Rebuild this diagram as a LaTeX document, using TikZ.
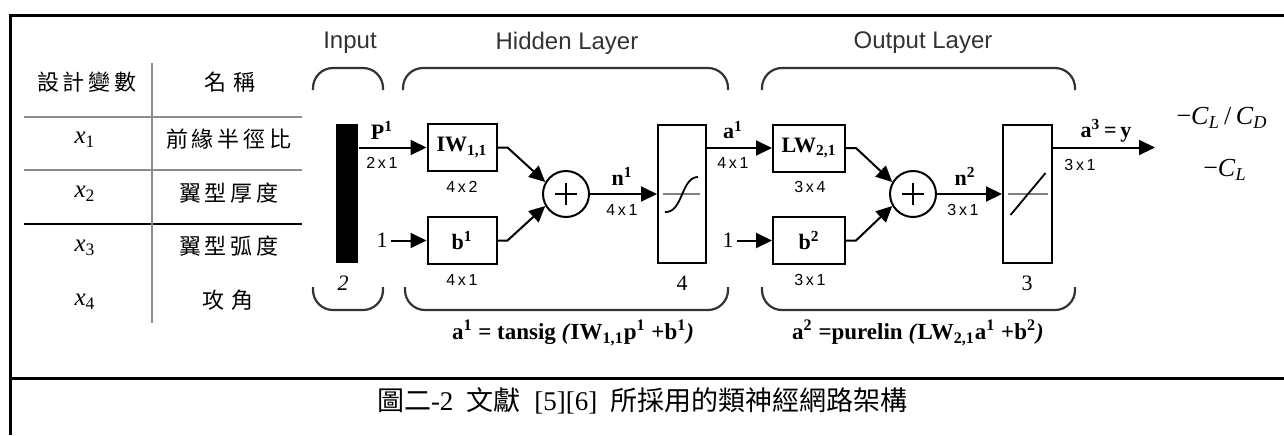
\documentclass[tikz,border=0pt]{standalone}
\usepackage{fontspec}
\setmainfont{Liberation Serif}
\newfontfamily\sansf{Liberation Sans}
\newfontfamily\cjk{Noto Sans CJK TC}
\usetikzlibrary{arrows.meta,positioning}
\definecolor{NNGray}{HTML}{333333}
\definecolor{TabLine}{HTML}{8C8C8C}
\newcommand{\fs}[1]{\fontsize{#1}{#1}\selectfont}
\newcommand{\cs}{\hspace{2pt}}

\begin{document}
\begin{tikzpicture}[x=0.5pt,y=-0.5pt,>={Triangle[length=8pt,width=7.5pt]},line width=1pt]
  \tikzstyle{wbox}=[draw,line width=1pt,minimum width=34.5pt,minimum height=23.5pt,
    inner sep=0pt,font=\fs{11}\bfseries]
  \tikzstyle{tfbox}=[draw,line width=1pt,minimum width=24pt,minimum height=69pt,inner sep=0pt]
  \tikzstyle{sumnode}=[draw,circle,line width=1pt,minimum size=23pt,inner sep=0pt]
  \tikzstyle{vlbl}=[inner sep=1pt,font=\fs{11}\bfseries]
  \tikzstyle{dimlbl}=[inner sep=1pt,font=\sansf\fs{8}]
  \tikzstyle{numlbl}=[inner sep=1pt,font=\fs{11}]
  \tikzstyle{layerlbl}=[inner sep=1pt,text=NNGray,font=\sansf\fs{12}]
  \tikzstyle{formula}=[inner sep=1pt,font=\fs{11.5}\bfseries]
  \tikzstyle{outlbl}=[inner sep=1pt,font=\fs{13}]
  \tikzstyle{tabtxt}=[inner sep=1pt,font=\cjk\fs{11}]
  \tikzstyle{vartxt}=[inner sep=1pt,font=\fs{12.5}]
  \tikzstyle{tline}=[draw=TabLine,line width=0.8pt]
  \tikzstyle{brk}=[draw=NNGray,line width=1.1pt,rounded corners=10pt]
  \tikzstyle{frame}=[draw=black,line width=1.5pt]
  \useasboundingbox (0,0) rectangle (1284,435);
  % frame
  \draw[frame] (1284,15) -- (10,15) -- (10,435);
  \draw[frame] (10,378) -- (1284,378);
  % table of design variables
  \node[tabtxt] (hdvar) at (87,82) {設\cs 計\cs 變\cs 數};
  \node[tabtxt] (hdname) at (230,82) {名\hspace{4pt}稱};
  \node[vartxt] (var1) at (85,140) {\textit{x}\textsubscript{1}};
  \node[vartxt] (var2) at (85,194) {\textit{x}\textsubscript{2}};
  \node[vartxt] (var3) at (85,248) {\textit{x}\textsubscript{3}};
  \node[vartxt] (var4) at (85,302) {\textit{x}\textsubscript{4}};
  \node[tabtxt] (nm1) at (229,139) {前\cs 緣\cs 半\cs 徑\cs 比};
  \node[tabtxt] (nm2) at (229,193) {翼\cs 型\cs 厚\cs 度};
  \node[tabtxt] (nm3) at (229,246) {翼\cs 型\cs 弧\cs 度};
  \node[tabtxt] (nm4) at (228,300) {攻\hspace{4pt}角};
  \draw[tline] (24,117) -- (302,117);
  \draw[tline] (24,170) -- (302,170);
  \draw[tline,draw=black] (24,224) -- (302,224);
  \draw[tline] (152,63) -- (152,323);
  % layer brackets
  \draw[brk] (313,90) -- (313,68) -- (383,68) -- (383,90);
  \draw[brk] (313,287) -- (313,310) -- (383,310) -- (383,287);
  \draw[brk] (403,90) -- (403,68) -- (728,68) -- (728,90);
  \draw[brk] (405,287) -- (405,310) -- (728,310) -- (728,287);
  \draw[brk] (762,90) -- (762,68) -- (1075,68) -- (1075,90);
  \draw[brk] (762,287) -- (762,310) -- (1075,310) -- (1075,287);
  \node[layerlbl] (linput) at (350,43) {Input};
  \node[layerlbl] (lhidden) at (567,43) {Hidden Layer};
  \node[layerlbl] (loutput) at (923,43) {Output Layer};
  % network
  \node[fill=black,minimum width=11pt,minimum height=69.5pt,inner sep=0pt] (bar) at (347,193.5) {};
  \node[wbox] (iw) at (462,147.5) {IW\textsubscript{1,1}};
  \node[wbox] (bone) at (462,240.5) {b\textsuperscript{1}};
  \node[sumnode] (sumone) at (566,194) {};
  \node[tfbox] (tfone) at (682,194) {};
  \node[wbox,minimum width=36pt] (lw) at (809,148) {LW\textsubscript{2,1}};
  \node[wbox,minimum width=36pt] (btwo) at (809,240.5) {b\textsuperscript{2}};
  \node[sumnode] (sumtwo) at (913,194) {};
  \node[tfbox,minimum width=24.5pt] (tftwo) at (1027.5,194) {};
  \coordinate (yend) at (1155,147.5);
  \node[numlbl] (onea) at (382,240.5) {1};
  \node[numlbl] (oneb) at (728,240.5) {1};
  \draw[->] (bar.east |- iw) -- (iw);
  \draw[->] (onea) -- (bone);
  \draw[->] (iw.east) -- ++(10,0) -- (sumone.150);
  \draw[->] (bone.east) -- ++(10,0) -- (sumone.210);
  \draw[->] (sumone) -- (tfone);
  \draw[->] (tfone.east |- lw) -- (lw);
  \draw[->] (oneb) -- (btwo);
  \draw[->] (lw.east) -- ++(10,0) -- (sumtwo.150);
  \draw[->] (btwo.east) -- ++(10,0) -- (sumtwo.210);
  \draw[->] (sumtwo) -- (tftwo);
  \draw[->] (tftwo.east |- yend) -- (yend);
  % plus signs and transfer functions
  \draw (sumone.center) ++(-11,0) -- ++(22,0) (sumone.center) ++(0,-11) -- ++(0,22);
  \draw (sumtwo.center) ++(-11,0) -- ++(22,0) (sumtwo.center) ++(0,-11) -- ++(0,22);
  \draw[line width=0.6pt,draw=gray] ([xshift=-9.5pt]tfone.center) -- ([xshift=9pt]tfone.center);
  \draw[line width=0.9pt,shift={(tfone.center)}] (-17,18) .. controls (1,19) and (-1,-17) .. (16,-17);
  \draw[line width=0.6pt,draw=gray] ([xshift=-10pt]tftwo.center) -- ([xshift=10pt]tftwo.center);
  \draw[line width=0.9pt,shift={(tftwo.center)}] (-17,21) -- (18,-21);
  % labels
  \node[vlbl] (pone) at (382,130) {P\textsuperscript{1}};
  \node[dimlbl] (dpone) at (382,163) {2\,x\,1};
  \node[dimlbl] (diw) at (462,187) {4\,x\,2};
  \node[dimlbl] (dbone) at (462,280) {4\,x\,1};
  \node[vlbl] (nlone) at (622,176) {n\textsuperscript{1}};
  \node[dimlbl] (dnone) at (622,210) {4\,x\,1};
  \node[numlbl] (szin) at (343,283) {\textit{2}};
  \node[numlbl] (szone) at (682,283) {4};
  \node[vlbl] (alone) at (733,130) {a\textsuperscript{1}};
  \node[dimlbl] (daone) at (733,163) {4\,x\,1};
  \node[dimlbl] (dlw) at (810,187) {3\,x\,4};
  \node[dimlbl] (dbtwo) at (810,280) {3\,x\,1};
  \node[vlbl] (nltwo) at (965,176) {n\textsuperscript{2}};
  \node[dimlbl] (dntwo) at (963,210) {3\,x\,1};
  \node[numlbl] (sztwo) at (1027,283) {3};
  \node[vlbl] (althree) at (1106,131) {a\textsuperscript{3}\,=\,y};
  \node[dimlbl] (dathree) at (1080,165) {3\,x\,1};
  \node[formula] (fone) at (573,333) {a\textsuperscript{1} = tansig \textit{(}IW\textsubscript{1,1}p\textsuperscript{1} +b\textsuperscript{1}\textit{)}};
  \node[formula] (ftwo) at (918,333) {a\textsuperscript{2} =purelin \textit{(}LW\textsubscript{2,1}a\textsuperscript{1} +b\textsuperscript{2}\textit{)}};
  \node[outlbl] (cld) at (1222,118) {−\textit{C}\textsubscript{\textit{L}}\,/\,\textit{C}\textsubscript{\textit{D}}};
  \node[outlbl] (cl) at (1225,170) {−\textit{C}\textsubscript{\textit{L}}};
  % caption
  \node[anchor=west,inner sep=0pt,font=\fs{13.5}] (cap) at (376,401)
    {{\cjk 圖二}-2\ \ {\cjk 文獻}\ \ [5][6]\ \ {\cjk 所採用的類神經網路架構}};
\end{tikzpicture}
\end{document}
